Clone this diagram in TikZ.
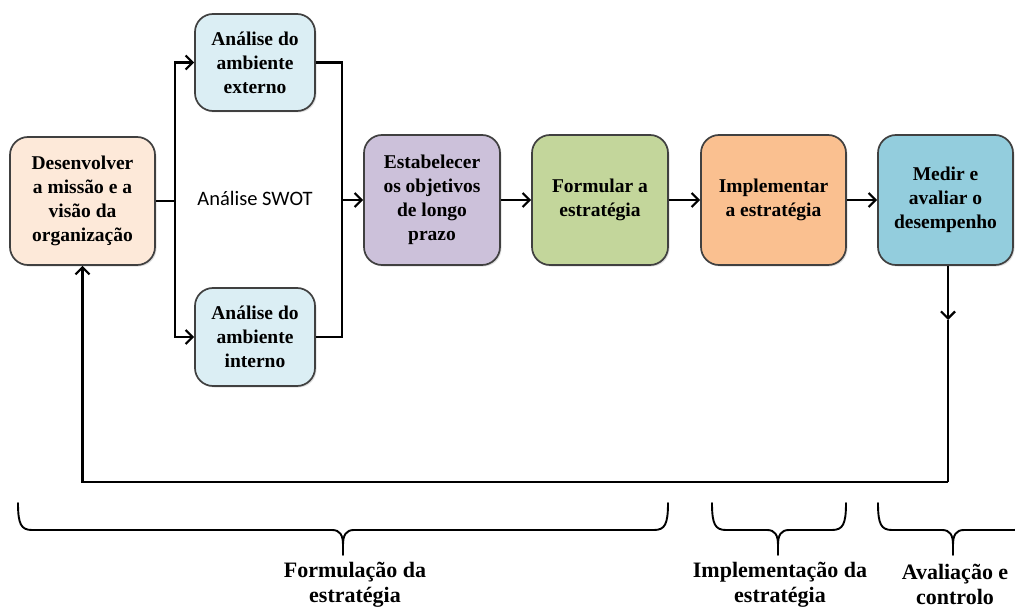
\documentclass[tikz,border=0pt]{standalone}
\usepackage{fontspec}
\setmainfont{Liberation Serif}
\newfontfamily\swotfont{Carlito}
\usetikzlibrary{arrows.meta,shadows}
\definecolor{cpeach}{HTML}{FDE9D9}
\definecolor{clblue}{HTML}{DBEEF4}
\definecolor{clav}{HTML}{CCC1DA}
\definecolor{cgreen}{HTML}{C3D69B}
\definecolor{corange}{HTML}{FAC090}
\definecolor{cblue}{HTML}{93CDDD}
\definecolor{cborder}{HTML}{404040}
\tikzset{
  stagebox/.style={draw=cborder, line width=1.7pt, rounded corners=18pt, align=center,
    font=\bfseries\fontsize{19.5}{24}\selectfont, inner sep=0pt,
    drop shadow={opacity=0.25, shadow xshift=1.5pt, shadow yshift=-1.5pt}},
  conn/.style={line width=2.2pt, black},
  arr/.style={conn, -{Straight Barb[length=7pt,width=14pt,line width=2.2pt]}},
  brace/.style={line width=1.9pt, black, line cap=round},
  lab/.style={align=center, font=\bfseries\fontsize{22}{25}\selectfont, inner sep=0pt}
}
\newcommand\drawbrace[3]{%
  \draw[brace] (#1,503) .. controls (#1,524) and (#1+3,530) .. (#1+14,530) -- (#2-11,530)
     .. controls (#2-3,530) and (#2,535) .. (#2,545) -- (#2,555);
  \draw[brace] (#3,503) .. controls (#3,524) and (#3-3,530) .. (#3-14,530) -- (#2+11,530)
     .. controls (#2+3,530) and (#2,535) .. (#2,545);
}
\begin{document}
\begin{tikzpicture}[x=1pt,y=-1pt]
\useasboundingbox (0,0) rectangle (1015,607);
\fill[white] (0,0) rectangle (1015,607);

\node[stagebox, fill=cpeach, minimum width=145pt, minimum height=128pt] (b1) at (82.5,201)
  {Desenvolver\\a missão e a\\visão da\\organização};
\node[stagebox, fill=clblue, minimum width=120pt, minimum height=97pt] (ext) at (255,62.5)
  {Análise do\\ambiente\\externo};
\node[stagebox, fill=clblue, minimum width=120pt, minimum height=98pt] (int) at (255,337)
  {Análise do\\ambiente\\interno};
\node[stagebox, fill=clav, minimum width=136pt, minimum height=130pt] (est) at (432,200)
  {Estabelecer\\os objetivos\\de longo\\prazo};
\node[stagebox, fill=cgreen, minimum width=136pt, minimum height=130pt] (for) at (600,200)
  {Formular a\\estratégia};
\node[stagebox, fill=corange, minimum width=145pt, minimum height=130pt] (imp) at (773.5,200)
  {Implementar\\a estratégia};
\node[stagebox, fill=cblue, minimum width=135pt, minimum height=130pt] (med) at (945.5,200)
  {Medir e\\avaliar o\\desempenho};

\node[font=\swotfont\fontsize{20.5}{24}\selectfont, inner sep=0pt] (swot) at (255,198) {Análise SWOT};

\coordinate (s1) at (175,201);
\coordinate (s2) at (342,200);
\draw[conn] (b1.east) -- (s1);
\draw[arr] (s1) |- (ext.west);
\draw[arr] (s1) |- (int.west);
\draw[conn] (ext.east) -| (s2);
\draw[conn] (int.east) -| (s2);
\draw[arr] (s2) -- (est.west);
\draw[arr] (est.east) -- (for.west);
\draw[arr] (for.east) -- (imp.west);
\draw[arr] (imp.east) -- (med.west);

\coordinate (fb) at (948,482);
\coordinate (fbm) at (948,320);
\draw[arr] (fb |- med.south) -- (fbm);
\draw[conn] (fbm) -- (fb);
\draw[arr] (fb) -| (b1.south);

\drawbrace{18}{343}{668}
\drawbrace{712}{778}{846}
\drawbrace{878}{953}{1028}

\node[lab] (l1) at (355,584.5) {Formulação da\\estratégia};
\node[lab] (l2) at (780,584.5) {Implementação da\\estratégia};
\node[lab] (l3) at (955,584.5) {Avaliação e\\controlo};
\end{tikzpicture}
\end{document}
